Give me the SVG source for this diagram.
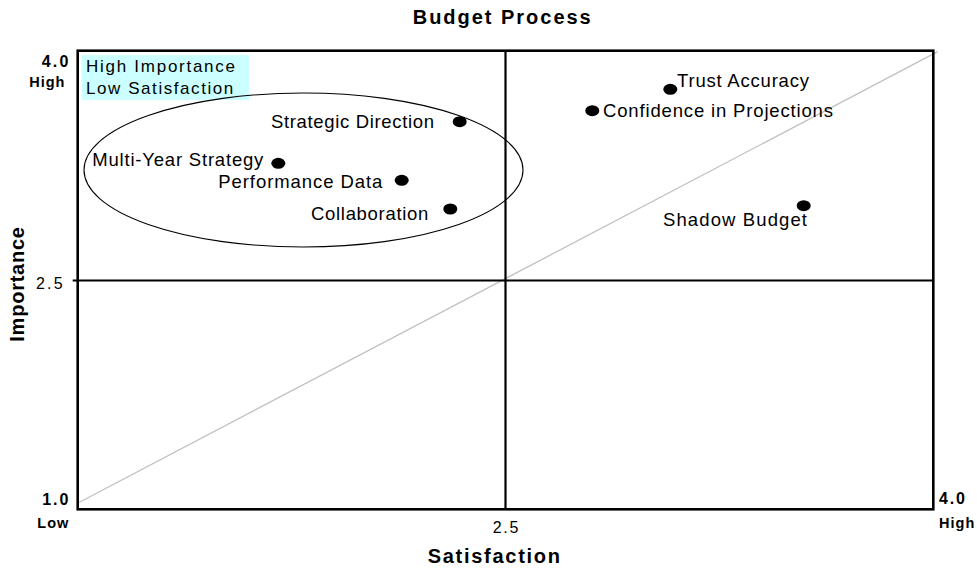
<svg xmlns="http://www.w3.org/2000/svg" width="977" height="568" viewBox="0 0 977 568">
<style>
text{font-family:"Liberation Sans",Arial,sans-serif;fill:#000}
.lbl{font-size:18.5px}
.box{font-size:17px}
.b{font-weight:bold}
.dot{fill:#000}
.frame{fill:none;stroke:#000;stroke-width:2.6}
.mid{stroke:#000;stroke-width:2.2;fill:none}
</style>
<rect width="977" height="568" fill="#fff"/>
<g id="title"><text class="b" x="412.7" y="24.3" font-size="20" textLength="178" lengthAdjust="spacing">Budget Process</text></g>
<g id="quadrant-box">
<rect x="81.5" y="55" width="167.5" height="45" fill="#ccffff"/>
<text class="box" x="86" y="72.3" textLength="149" lengthAdjust="spacing">High Importance</text>
<text class="box" x="86" y="94.3" textLength="147.3" lengthAdjust="spacing">Low Satisfaction</text>
</g>
<g id="connectors">
<line x1="78" y1="503" x2="937.7" y2="51.7" stroke="#c0c0c0" stroke-width="1.3"/>
<rect class="frame" x="77.7" y="50.7" width="855.6" height="458.6"/>
<line class="mid" x1="505.5" y1="50.7" x2="505.5" y2="509.3"/>
<line class="mid" x1="72.7" y1="280.5" x2="933.3" y2="280.5"/>
<ellipse cx="303.5" cy="170" rx="219.5" ry="77" fill="none" stroke="#000" stroke-width="1.1"/>
</g>
<g id="axes">
<text class="b" x="41.7" y="67.3" font-size="16" textLength="26.6" lengthAdjust="spacing">4.0</text>
<text class="b" x="29.3" y="86.7" font-size="14.5" textLength="35" lengthAdjust="spacing">High</text>
<text x="36" y="289.3" font-size="16" textLength="26.7" lengthAdjust="spacing">2.5</text>
<text class="b" x="42.3" y="505" font-size="16" textLength="26" lengthAdjust="spacing">1.0</text>
<text class="b" x="37.3" y="527.7" font-size="14.5" textLength="31" lengthAdjust="spacing">Low</text>
<text class="b" x="939" y="504.3" font-size="16" textLength="26" lengthAdjust="spacing">4.0</text>
<text class="b" x="939" y="527.7" font-size="14.5" textLength="35.3" lengthAdjust="spacing">High</text>
<text x="492.7" y="532.7" font-size="16" textLength="25.6" lengthAdjust="spacing">2.5</text>
<text class="b" x="427.7" y="562.7" font-size="20" textLength="132.3" lengthAdjust="spacing">Satisfaction</text>
<text class="b" transform="translate(24,341.7) rotate(-90)" x="0" y="0" font-size="20" textLength="114.7" lengthAdjust="spacing">Importance</text>
</g>
<g id="strategic-direction"><ellipse class="dot" cx="459.7" cy="121.7" rx="7" ry="5.5"/><text class="lbl" x="271" y="128" textLength="163" lengthAdjust="spacing">Strategic Direction</text></g>
<g id="multi-year-strategy"><ellipse class="dot" cx="278.3" cy="163.3" rx="7" ry="5.5"/><text class="lbl" x="92.3" y="165.7" textLength="171" lengthAdjust="spacing">Multi-Year Strategy</text></g>
<g id="performance-data"><ellipse class="dot" cx="401.7" cy="180.3" rx="7" ry="5.5"/><text class="lbl" x="218.3" y="188" textLength="164" lengthAdjust="spacing">Performance Data</text></g>
<g id="collaboration"><ellipse class="dot" cx="450.3" cy="209" rx="7" ry="5.5"/><text class="lbl" x="311" y="220" textLength="117.3" lengthAdjust="spacing">Collaboration</text></g>
<g id="trust-accuracy"><ellipse class="dot" cx="670.3" cy="89.3" rx="7" ry="5.5"/><text class="lbl" x="677" y="87.3" textLength="132" lengthAdjust="spacing">Trust Accuracy</text></g>
<g id="confidence"><ellipse class="dot" cx="592.3" cy="110.7" rx="7" ry="5.5"/><text class="lbl" x="603" y="116.7" textLength="230" lengthAdjust="spacing">Confidence in Projections</text></g>
<g id="shadow-budget"><ellipse class="dot" cx="803.7" cy="205.7" rx="7" ry="5.5"/><text class="lbl" x="663" y="225.7" textLength="144" lengthAdjust="spacing">Shadow Budget</text></g>
</svg>
